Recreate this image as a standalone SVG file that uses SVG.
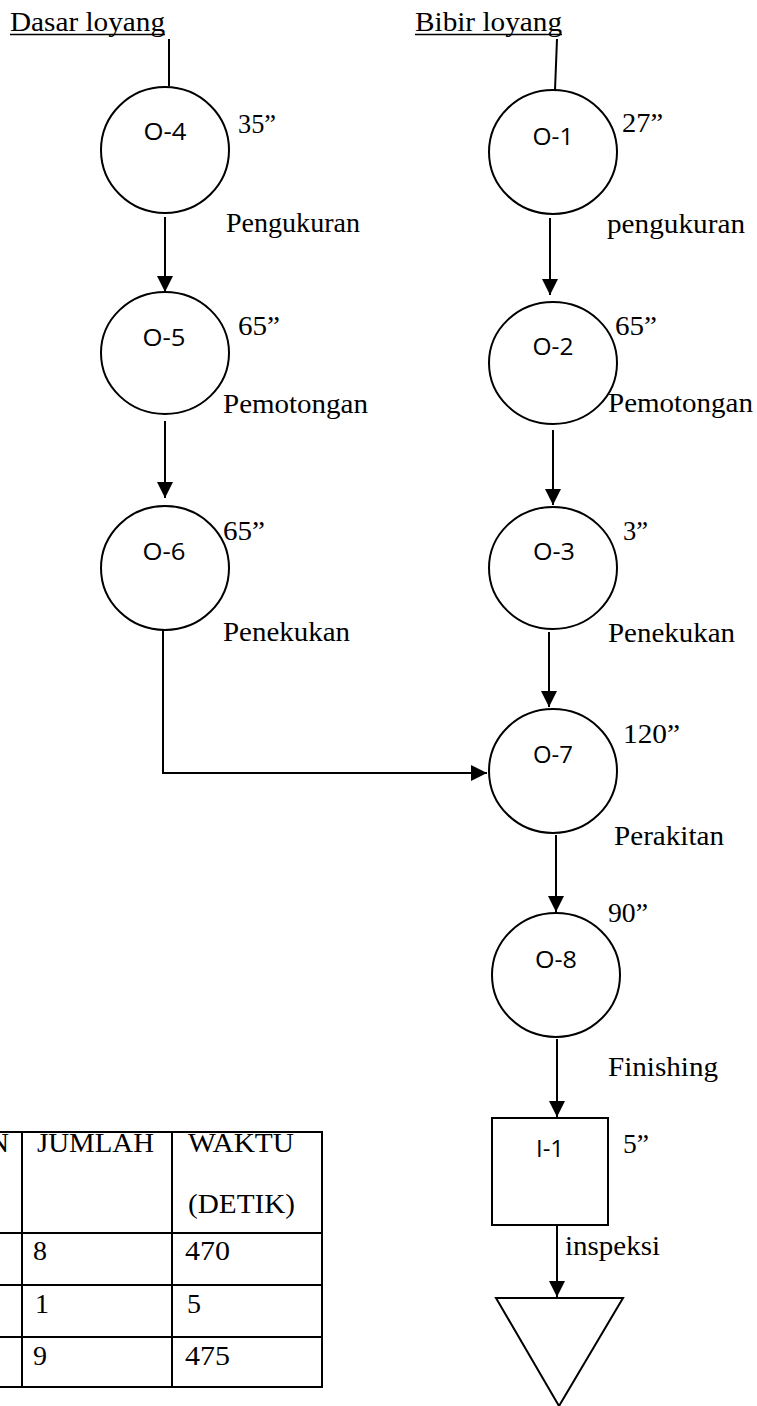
<svg xmlns="http://www.w3.org/2000/svg" width="757" height="1406" viewBox="0 0 757 1406">
<style>
.shape{fill:#fff;stroke:#000;stroke-width:2}
.ln{fill:none;stroke:#000;stroke-width:2}
.lbl{font-family:"Liberation Serif","Times New Roman",serif;font-size:28px;fill:#000}
.tb{font-family:"Liberation Serif","Times New Roman",serif;font-size:28px;fill:#000}
.nd{font-family:"Open Sans","Noto Sans",sans-serif;font-size:23px;fill:#000;text-anchor:middle}
</style>
<defs>
<marker id="ah" markerUnits="userSpaceOnUse" markerWidth="16" markerHeight="17" refX="16" refY="8" orient="auto">
<path d="M0,0 L16,8 L0,16 Z" fill="#000"/>
</marker>
</defs>
<rect width="757" height="1406" fill="#fff"/>

<g id="connectors">
<line class="ln" x1="169" y1="39" x2="169" y2="86"/>
<line class="ln" x1="557" y1="39" x2="555" y2="90"/>
<line class="ln" x1="165" y1="217" x2="165" y2="292" marker-end="url(#ah)"/>
<line class="ln" x1="165" y1="421" x2="165" y2="498" marker-end="url(#ah)"/>
<polyline class="ln" points="163,630 163,773 487,773" marker-end="url(#ah)"/>
<line class="ln" x1="550" y1="218" x2="550" y2="295" marker-end="url(#ah)"/>
<line class="ln" x1="553" y1="430" x2="553" y2="505" marker-end="url(#ah)"/>
<line class="ln" x1="549" y1="632" x2="549" y2="707" marker-end="url(#ah)"/>
<line class="ln" x1="556" y1="835" x2="556" y2="912" marker-end="url(#ah)"/>
<line class="ln" x1="557" y1="1039" x2="557" y2="1117" marker-end="url(#ah)"/>
<line class="ln" x1="557" y1="1225" x2="557" y2="1297" marker-end="url(#ah)"/>
</g>

<g id="title-dasar">
<text class="lbl" x="10" y="31" textLength="155" lengthAdjust="spacingAndGlyphs">Dasar loyang</text>
<line x1="10" y1="34.5" x2="165" y2="34.5" stroke="#000" stroke-width="1.5"/>
</g>
<g id="title-bibir">
<text class="lbl" x="415" y="31" textLength="147" lengthAdjust="spacingAndGlyphs">Bibir loyang</text>
<line x1="415" y1="34.5" x2="562" y2="34.5" stroke="#000" stroke-width="1.5"/>
</g>

<g id="O-4">
<ellipse class="shape" cx="165" cy="150" rx="64" ry="63"/>
<text class="nd" x="165" y="140" textLength="43" lengthAdjust="spacingAndGlyphs">O-4</text>
<text class="lbl" x="238" y="133" textLength="38" lengthAdjust="spacingAndGlyphs">35”</text>
<text class="lbl" x="226" y="232" textLength="134" lengthAdjust="spacingAndGlyphs">Pengukuran</text>
</g>
<g id="O-5">
<ellipse class="shape" cx="165" cy="353" rx="64" ry="61"/>
<text class="nd" x="164" y="346" textLength="43" lengthAdjust="spacingAndGlyphs">O-5</text>
<text class="lbl" x="238" y="335" textLength="42" lengthAdjust="spacingAndGlyphs">65”</text>
<text class="lbl" x="223" y="413" textLength="145" lengthAdjust="spacingAndGlyphs">Pemotongan</text>
</g>
<g id="O-6">
<ellipse class="shape" cx="165" cy="568" rx="64" ry="62"/>
<text class="nd" x="164" y="560" textLength="43" lengthAdjust="spacingAndGlyphs">O-6</text>
<text class="lbl" x="223" y="540" textLength="42" lengthAdjust="spacingAndGlyphs">65”</text>
<text class="lbl" x="223" y="641" textLength="127" lengthAdjust="spacingAndGlyphs">Penekukan</text>
</g>
<g id="O-1">
<ellipse class="shape" cx="553" cy="152" rx="64" ry="62"/>
<text class="nd" x="553" y="145" textLength="41" lengthAdjust="spacingAndGlyphs">O-1</text>
<text class="lbl" x="622" y="132" textLength="41" lengthAdjust="spacingAndGlyphs">27”</text>
<text class="lbl" x="607" y="233" textLength="138" lengthAdjust="spacingAndGlyphs">pengukuran</text>
</g>
<g id="O-2">
<ellipse class="shape" cx="553" cy="363" rx="64" ry="61"/>
<text class="nd" x="553" y="355" textLength="41" lengthAdjust="spacingAndGlyphs">O-2</text>
<text class="lbl" x="615" y="335" textLength="42" lengthAdjust="spacingAndGlyphs">65”</text>
<text class="lbl" x="608" y="412" textLength="145" lengthAdjust="spacingAndGlyphs">Pemotongan</text>
</g>
<g id="O-3">
<ellipse class="shape" cx="553" cy="568" rx="64" ry="61"/>
<text class="nd" x="554" y="560" textLength="42" lengthAdjust="spacingAndGlyphs">O-3</text>
<text class="lbl" x="623" y="540" textLength="25" lengthAdjust="spacingAndGlyphs">3”</text>
<text class="lbl" x="608" y="642" textLength="127" lengthAdjust="spacingAndGlyphs">Penekukan</text>
</g>
<g id="O-7">
<ellipse class="shape" cx="553" cy="771" rx="64" ry="62"/>
<text class="nd" x="553" y="763" textLength="40" lengthAdjust="spacingAndGlyphs">O-7</text>
<text class="lbl" x="623" y="743" textLength="57" lengthAdjust="spacingAndGlyphs">120”</text>
<text class="lbl" x="614" y="845" textLength="110" lengthAdjust="spacingAndGlyphs">Perakitan</text>
</g>
<g id="O-8">
<ellipse class="shape" cx="556" cy="975" rx="64" ry="62"/>
<text class="nd" x="556" y="968" textLength="42" lengthAdjust="spacingAndGlyphs">O-8</text>
<text class="lbl" x="608" y="922" textLength="40" lengthAdjust="spacingAndGlyphs">90”</text>
<text class="lbl" x="608" y="1076" textLength="110" lengthAdjust="spacingAndGlyphs">Finishing</text>
</g>
<g id="I-1">
<rect class="shape" x="492" y="1118" width="116" height="107"/>
<text class="nd" x="550" y="1157" textLength="28" lengthAdjust="spacingAndGlyphs">I-1</text>
<text class="lbl" x="623" y="1153" textLength="26" lengthAdjust="spacingAndGlyphs">5”</text>
<text class="lbl" x="565" y="1255" textLength="95" lengthAdjust="spacingAndGlyphs">inspeksi</text>
</g>
<g id="storage">
<polygon class="shape" points="496,1298 623,1298 559,1406"/>
</g>

<g id="table">
<g class="ln">
<line x1="0" y1="1132" x2="323" y2="1132"/>
<line x1="0" y1="1233" x2="323" y2="1233"/>
<line x1="0" y1="1285" x2="323" y2="1285"/>
<line x1="0" y1="1337" x2="323" y2="1337"/>
<line x1="0" y1="1387" x2="323" y2="1387"/>
<line x1="22" y1="1131" x2="22" y2="1388"/>
<line x1="172" y1="1131" x2="172" y2="1388"/>
<line x1="322" y1="1131" x2="322" y2="1388"/>
</g>
<text class="tb" x="9" y="1152" text-anchor="end">N</text>
<text class="tb" x="37" y="1152" textLength="117" lengthAdjust="spacingAndGlyphs">JUMLAH</text>
<text class="tb" x="188" y="1152" textLength="106" lengthAdjust="spacingAndGlyphs">WAKTU</text>
<text class="tb" x="188" y="1213" textLength="107" lengthAdjust="spacingAndGlyphs">(DETIK)</text>
<text class="tb" x="33" y="1260">8</text>
<text class="tb" x="185" y="1260" textLength="45" lengthAdjust="spacingAndGlyphs">470</text>
<text class="tb" x="35" y="1313">1</text>
<text class="tb" x="187" y="1313">5</text>
<text class="tb" x="33" y="1365">9</text>
<text class="tb" x="185" y="1365" textLength="45" lengthAdjust="spacingAndGlyphs">475</text>
</g>
</svg>
